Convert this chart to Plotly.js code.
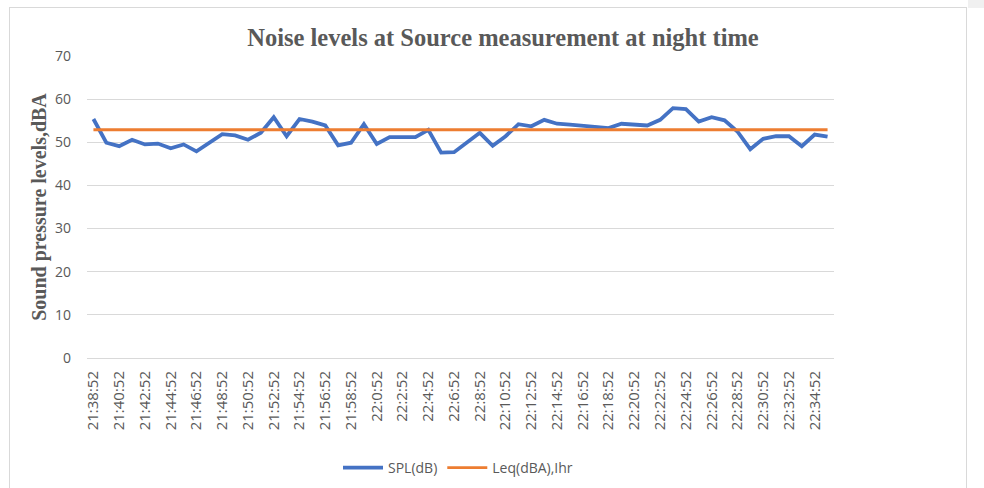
<!DOCTYPE html>
<html>
<head>
<meta charset="utf-8">
<script src="https://cdn.plot.ly/plotly-3.0.1.min.js"></script>
<style>
  html, body { margin:0; padding:0; background:#ffffff; width:984px; height:488px; overflow:hidden; }
  #frame { position:absolute; left:9px; top:7px; width:958px; height:490px; border:1px solid #d9d9d9; box-sizing:border-box; }
  #corner { position:absolute; left:968px; top:0; width:16px; height:8px; background:#f0f0f0; }
  #chart { position:absolute; left:0; top:0; width:984px; height:488px; }
</style>
</head>
<body>
<div id="frame"></div>
<div id="corner"></div>
<div id="chart"></div>
<script>
// Category labels (time of measurement)
const times = [
  "21:38:52","21:39:52","21:40:52","21:41:52","21:42:52","21:43:52","21:44:52","21:45:52",
  "21:46:52","21:47:52","21:48:52","21:49:52","21:50:52","21:51:52","21:52:52","21:53:52",
  "21:54:52","21:55:52","21:56:52","21:57:52","21:58:52","21:59:52",
  "22:0:52","22:1:52","22:2:52","22:3:52","22:4:52","22:5:52","22:6:52","22:7:52",
  "22:8:52","22:9:52","22:10:52","22:11:52","22:12:52","22:13:52","22:14:52","22:15:52",
  "22:16:52","22:17:52","22:18:52","22:19:52","22:20:52","22:21:52","22:22:52","22:23:52",
  "22:24:52","22:25:52","22:26:52","22:27:52","22:28:52","22:29:52","22:30:52","22:31:52",
  "22:32:52","22:33:52","22:34:52","22:35:52"
];

// SPL (dB) readings
const spl = [
  55.4, 49.9, 49.1, 50.6, 49.5, 49.7, 48.6, 49.5,
  47.9, 49.9, 51.9, 51.6, 50.6, 52.2, 55.8, 51.4,
  55.4, 54.8, 53.9, 49.3, 49.9, 54.2,
  49.6, 51.2, 51.2, 51.2, 52.9, 47.6, 47.7, 49.9,
  52.2, 49.2, 51.4, 54.2, 53.7, 55.2, 54.3, 54.1,
  53.8, 53.5, 53.3, 54.3, 54.1, 53.9, 55.2, 57.9,
  57.7, 54.8, 55.8, 55.1, 52.5, 48.4, 50.8, 51.4,
  51.4, 49.1, 51.8, 51.3
];

// Leq (dBA), 1 hr - constant level across the period
const leqX = ["21:38:52", "22:35:52"];
const leqY = [52.9, 52.9];

// Tick labels shown every other category
const tickTimes = times.filter((t, i) => i % 2 === 0);

const textColor = "#595959";
const gridColor = "#d9d9d9";

const traces = [
  {
    type: "scatter", mode: "lines", name: "SPL(dB)",
    x: times, y: spl,
    line: { color: "#4472C4", width: 3.8 }
  },
  {
    type: "scatter", mode: "lines", name: "Leq(dBA),Ihr",
    x: leqX, y: leqY,
    line: { color: "#ED7D31", width: 2.8 }
  }
];

const layout = {
  width: 984, height: 488,
  paper_bgcolor: "rgba(0,0,0,0)",
  plot_bgcolor: "rgba(0,0,0,0)",
  margin: { l: 87, r: 150, t: 56, b: 130 },
  font: { family: "Open Sans, sans-serif", color: textColor, size: 14 },
  title: {
    text: "<b>Noise levels at Source measurement at night time</b>",
    font: { family: "Liberation Serif, Times New Roman, serif", size: 24.5, color: textColor },
    x: 503 / 984, xref: "container", xanchor: "center",
    y: 1 - 37 / 488, yref: "container", yanchor: "middle"
  },
  xaxis: {
    type: "category",
    categoryorder: "array", categoryarray: times,
    range: [-0.5, times.length - 0.5],
    tickmode: "array", tickvals: tickTimes, ticktext: tickTimes,
    tickangle: -90,
    tickfont: { size: 15, color: textColor },
    showgrid: false, zeroline: false,
    showline: true, linecolor: gridColor, linewidth: 1,
    ticks: "", ticklabelstandoff: 6
  },
  yaxis: {
    range: [0, 70], dtick: 10, tick0: 0,
    showgrid: true, gridcolor: gridColor, gridwidth: 1,
    zeroline: false, showline: false,
    ticks: "", ticklabelstandoff: 15,
    tickfont: { size: 14, color: textColor },
    title: {
      text: "<b>Sound pressure levels,dBA</b>",
      font: { family: "Liberation Serif, Times New Roman, serif", size: 20, color: textColor },
      standoff: 2
    }
  },
  legend: {
    orientation: "h",
    x: 458 / 984, xref: "container", xanchor: "center",
    y: 1 - 468 / 488, yref: "container", yanchor: "middle",
    font: { size: 14, color: textColor },
    itemwidth: 40
  },
  showlegend: true
};

Plotly.newPlot("chart", traces, layout, { displayModeBar: false, staticPlot: true });
</script>
</body>
</html>
